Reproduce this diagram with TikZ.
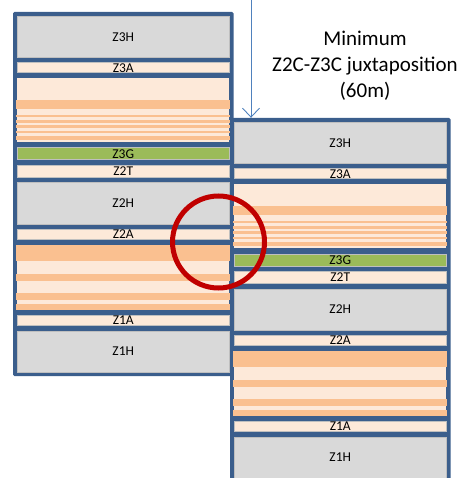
\documentclass[tikz,border=0pt]{standalone}
\usepackage{fontspec}
\setmainfont{Carlito}
\usetikzlibrary{arrows.meta,positioning,fit,backgrounds}
\definecolor{frameblue}{HTML}{3B5E8C}
\definecolor{unitgray}{HTML}{D9D9D9}
\definecolor{unitpeach}{HTML}{FDE9D9}
\definecolor{unitorange}{HTML}{FAC090}
\definecolor{unitgreen}{HTML}{9BBB59}
\definecolor{arrowblue}{HTML}{4F81BD}
\definecolor{ringred}{HTML}{C00000}

\begin{document}
\begin{tikzpicture}[x=1pt,y=-1pt,node distance=5pt,
   u/.style={draw=black!25,line width=0.5pt,minimum width=212pt,inner sep=0pt,
             font=\fontsize{13.5}{13.5}\selectfont},
   thick unit/.style={u,fill=unitgray,minimum height=41pt},
   thin unit/.style={u,fill=unitpeach,minimum height=10pt},
   zone/.style={u,draw=none,fill=unitpeach}]
  \useasboundingbox (0,0) rectangle (464,478);
  % two logged sections, the second one dropped by 106
  \foreach \side/\dx/\dy in {L/0/0,R/217/106} {
    \node[thick unit,anchor=north west] (\side-z3h) at ({17+\dx},{16+\dy}) {Z3H};
    \node[thin unit,below=of \side-z3h] (\side-z3a) {Z3A};
    \node[zone,minimum height=64pt,below=of \side-z3a] (\side-z3c) {};
    \node[thin unit,fill=unitgreen,minimum height=12pt,below=of \side-z3c] (\side-z3g) {Z3G};
    \node[thin unit,minimum height=12pt,below=of \side-z3g] (\side-z2t) {Z2T};
    \node[thick unit,below=of \side-z2t] (\side-z2h) {Z2H};
    \node[thin unit,below=of \side-z2h] (\side-z2a) {Z2A};
    \node[zone,minimum height=65pt,below=of \side-z2a] (\side-z2c) {};
    \node[thin unit,below=of \side-z2c] (\side-z1a) {Z1A};
    \node[thick unit,below=of \side-z1a] (\side-z1h) {Z1H};
    \foreach \a/\b in {22/31,37/39,42/45,47/50,53/55,58/62}
      \fill[unitorange] ([shift={(-1,\a)}]\side-z3c.north west) rectangle ([shift={(213,\b)}]\side-z3c.north west);
    \foreach \a/\b in {0/16,29/36,48/55,59/65}
      \fill[unitorange] ([shift={(-1,\a)}]\side-z2c.north west) rectangle ([shift={(213,\b)}]\side-z2c.north west);
    \begin{scope}[on background layer]
      \node[fit=(\side-z3h)(\side-z1h),inner sep=4pt,fill=frameblue,rounded corners=1.5pt] (\side-frame) {};
    \end{scope}
  }
  \coordinate (dropstart) at (251,0);
  \draw[arrowblue,line width=0.9pt,-{Straight Barb[length=9pt,width=17pt]}]
       (dropstart) -- (dropstart |- R-frame.north);
  \node[font=\fontsize{21}{26}\selectfont,align=center] (note) at (365,66)
       {Minimum\\Z2C-Z3C juxtaposition\\(60m)};
  \node[circle,draw=ringred,line width=5pt,minimum size=92pt,inner sep=0pt] (ring) at (218.5,242) {};
\end{tikzpicture}
\end{document}
